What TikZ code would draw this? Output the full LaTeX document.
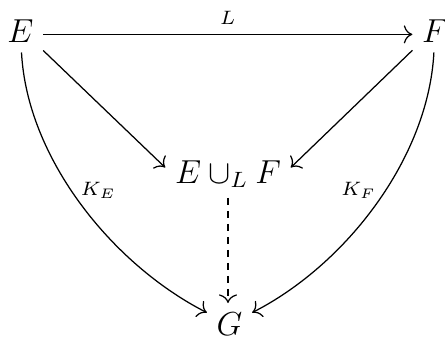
\documentclass[tikz,border=0pt]{standalone}
\usepackage{amsmath}
\usetikzlibrary{arrows.meta}

\begin{document}
\begin{tikzpicture}[
  x=0.361pt, y=-0.361pt,
  obj/.style={font=\large, anchor=base},
  arr/.style={-{To[scale=1.2]}, line width=0.45pt},
  lbl/.style={font=\scriptsize}
]
\useasboundingbox (0,0) rectangle (445,338);
\node[obj] (E) at (20.4,42.7) {$E$};
\node[obj] (F) at (435,42.7) {$F$};
\node[obj] (U) at (228,183) {$E\cup_L F$};
\node[obj] (G) at (229.5,335.5) {$G$};
\draw[arr] ([yshift=-1.1pt]E.east) -- node[lbl, above] {$L$} ([yshift=-1.1pt]F.west);
\draw[arr] (E.-40) -- (U.174);
\draw[arr] (F.-140) -- (U.6);
\draw[arr, dash pattern=on 2.5pt off 2.2pt] (U) -- (U |- G.north);
\draw[arr] (E) to[out=-87, in=153, looseness=0.85] node[lbl, anchor=west, pos=.45] {$K_E$} (G);
\draw[arr] (F) to[out=-93, in=27, looseness=0.85] node[lbl, anchor=east, pos=.45] {$K_F$} (G);
\end{tikzpicture}
\end{document}
